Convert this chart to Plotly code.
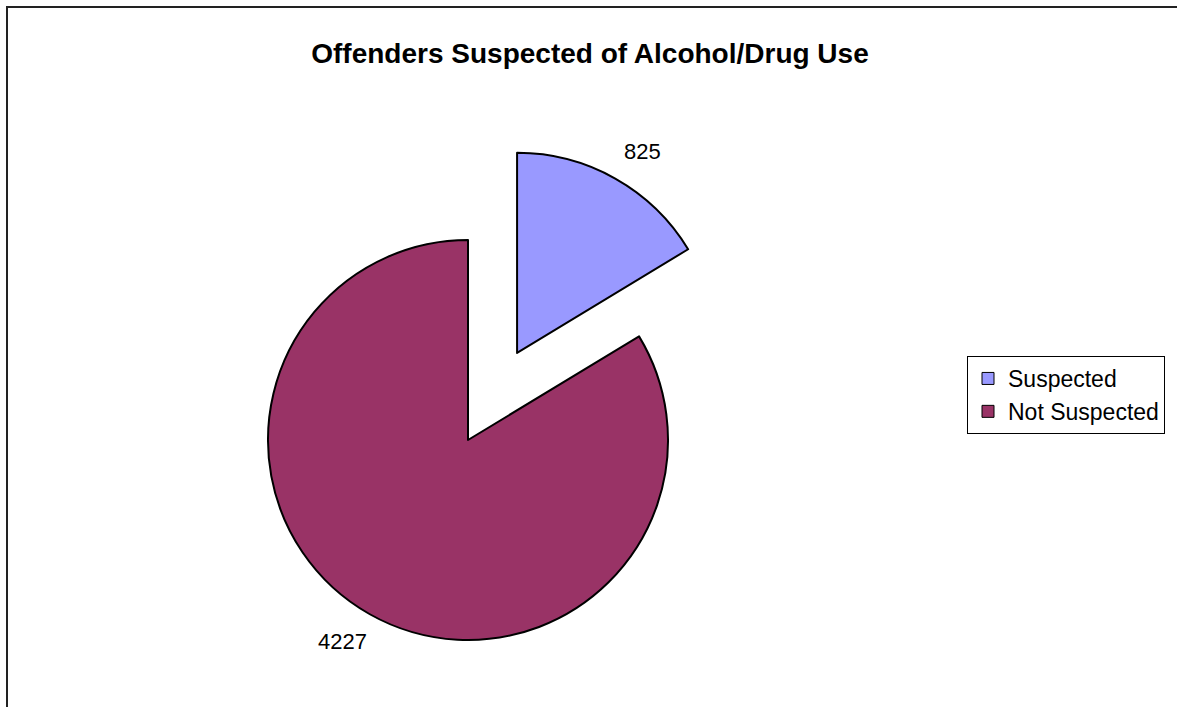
import math
import plotly.graph_objects as go

# ---- data ----
labels = ["Suspected", "Not Suspected"]
values = [825, 4227]
colors = ["#9999FF", "#993366"]
title_text = "Offenders Suspected of Alcohol/Drug Use"

W, H = 1177, 707
# geometry of the (unpulled) pie in pixels
cx, cy, R = 468, 440, 200
pull_frac = 0.5   # exploded slice pulled out by half a radius
label_dist = 1.185  # data labels sit outside the rim (fraction of radius)
label_shift = math.radians(2.5)

FONT = "Arial, Liberation Sans, sans-serif"


def dom(cxp, cyp, r):
    return dict(x=[(cxp - r) / W, (cxp + r) / W],
                y=[(H - (cyp + r)) / H, (H - (cyp - r)) / H])


total = sum(values)
# mid angles (clockwise from 12 o'clock)
mids = []
acc = 0
for v in values:
    mids.append(2 * math.pi * (acc + v / 2) / total)
    acc += v

dx = pull_frac * R * math.sin(mids[0])
dy = -pull_frac * R * math.cos(mids[0])
centers = [(cx + dx, cy + dy), (cx, cy)]

common = dict(labels=labels, values=values, sort=False, direction="clockwise",
              rotation=0, hoverinfo="none", textinfo="none")

fig = go.Figure()

# legend-only trace (tiny, hidden under the main slice)
fig.add_trace(go.Pie(**common, domain=dom(400, 520, 0.5),
                     marker=dict(colors=colors, line=dict(color="black", width=1)),
                     showlegend=True))

# main body: Not Suspected slice at its home position
fig.add_trace(go.Pie(**common, domain=dom(cx, cy, R),
                     marker=dict(colors=["rgba(0,0,0,0)", colors[1]],
                                 line=dict(color=["rgba(0,0,0,0)", "black"], width=2)),
                     showlegend=False))

# exploded slice: Suspected
fig.add_trace(go.Pie(**common, domain=dom(cx + dx, cy + dy, R),
                     marker=dict(colors=[colors[0], "rgba(0,0,0,0)"],
                                 line=dict(color=["black", "rgba(0,0,0,0)"], width=2)),
                     showlegend=False))

annotations = []
for v, m, (ccx, ccy) in zip(values, mids, centers):
    a = m + label_shift
    px = ccx + label_dist * R * math.sin(a)
    py = ccy - label_dist * R * math.cos(a)
    annotations.append(dict(text=str(v), x=px / W, y=1 - py / H, xref="paper", yref="paper",
                            xanchor="center", yanchor="middle", showarrow=False,
                            font=dict(family=FONT, size=22, color="black")))

fig.update_layout(
    width=W, height=H,
    margin=dict(l=0, r=0, t=0, b=0),
    paper_bgcolor="white", plot_bgcolor="white",
    font=dict(family=FONT, color="black"),
    title=dict(text="<b>" + title_text + "</b>", x=590 / W, xanchor="center",
               y=1 - 53 / H, yanchor="middle",
               font=dict(family=FONT, size=28, color="black")),
    legend=dict(x=967 / W, xanchor="left", y=1 - 395 / H, yanchor="middle",
                bgcolor="white", bordercolor="black", borderwidth=1,
                font=dict(family=FONT, size=23, color="black"),
                tracegroupgap=0),
    annotations=annotations,
    shapes=[
        dict(type="line", xref="paper", yref="paper", x0=6 / W, x1=1.0,
             y0=1 - 7 / H, y1=1 - 7 / H, line=dict(color="#222222", width=2)),
        dict(type="line", xref="paper", yref="paper", x0=7 / W, x1=7 / W,
             y0=0, y1=1 - 6 / H, line=dict(color="#222222", width=2)),
    ],
)

fig.write_html("out.html", config={"displayModeBar": False},
               post_script="document.body.style.margin='0px';document.body.style.overflow='hidden';")
